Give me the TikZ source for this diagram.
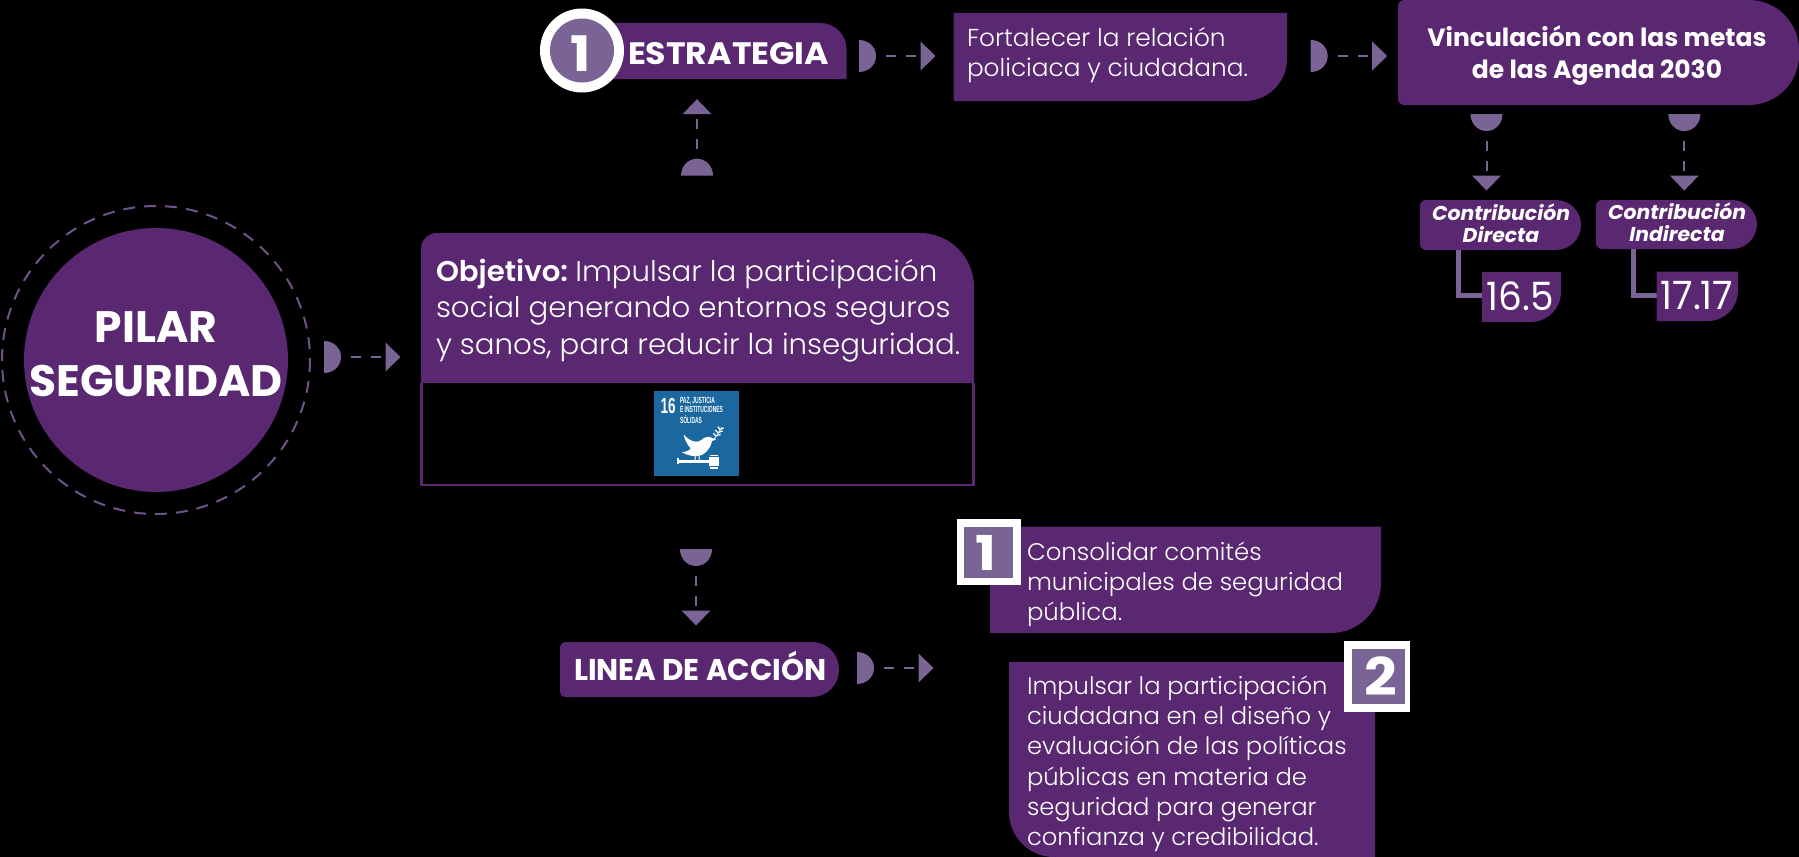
\documentclass[tikz,border=0pt]{standalone}
\usepackage{fontspec}
\usepackage{graphicx}
\setmainfont{Poppins}
\newfontfamily\plight{Poppins Light}
\newfontfamily\narrowf{Liberation Sans}
\definecolor{pilarpurple}{HTML}{5A2771}
\definecolor{connpurple}{HTML}{7A6496}
\definecolor{sdgblue}{HTML}{1A689F}
\tikzset{
  txt/.style={inner sep=0pt,outer sep=0pt,text=white},
  dashline/.style={draw=connpurple,line width=0.1cm,dash pattern=on 0.5cm off 0.5cm,dash phase=0.5cm},
  connfill/.style={fill=connpurple},
  elbow/.style={draw=connpurple,line width=0.25cm}
}
% name x1 y1 x2 y2 rTL rTR rBR rBL
\newcommand\pbox[9]{%
  \fill[pilarpurple] (#2+#6,#3) -- (#4-#7,#3)
    .. controls (#4-#7*0.448,#3) and (#4,#3+#7*0.448) .. (#4,#3+#7)
    -- (#4,#5-#8)
    .. controls (#4,#5-#8*0.448) and (#4-#8*0.448,#5) .. (#4-#8,#5)
    -- (#2+#9,#5)
    .. controls (#2+#9*0.448,#5) and (#2,#5-#9*0.448) .. (#2,#5-#9)
    -- (#2,#3+#6)
    .. controls (#2,#3+#6*0.448) and (#2+#6*0.448,#3) .. (#2+#6,#3) -- cycle;
  \coordinate (#1) at ({(#2+#4)/2},{(#3+#5)/2});
}
% name x y angle
\newcommand\conn[4]{%
  \begin{scope}[shift={(#2,#3)},rotate=#4]
    \fill[connfill] (0,-16) .. controls (9.5,-16) and (17,-9) .. (17,0)
       .. controls (17,9) and (9.5,16) .. (0,16) -- cycle;
    \coordinate (#1-a) at (17,0);
    \coordinate (#1-b) at (61.5,0);
    \fill[connfill] (61.5,-14.5) -- (76.5,0) -- (61.5,14.5) -- cycle;
    \draw[dashline] (#1-a) -- (#1-b);
  \end{scope}
}
% name x y anchor size lead xscale fontcmd lines
\newcommand\tl[9]{%
  \pgfmathsetmacro\fsz{#5*1.42264}\pgfmathsetmacro\lsz{#6*1.42264}%
  \node[txt,anchor=#4] (#1) at (#2,#3) {\fontsize{\fsz pt}{\lsz pt}\selectfont #8\scalebox{#7}[1]{\begin{tabular}[b]{@{}l@{}}#9\end{tabular}}};
}
\newcommand\tc[9]{%
  \pgfmathsetmacro\fsz{#5*1.42264}\pgfmathsetmacro\lsz{#6*1.42264}%
  \node[txt,anchor=#4] (#1) at (#2,#3) {\fontsize{\fsz pt}{\lsz pt}\selectfont #8\scalebox{#7}[1]{\begin{tabular}[b]{@{}c@{}}#9\end{tabular}}};
}
\begin{document}
\begin{tikzpicture}[x=0.05cm,y=-0.05cm]
\useasboundingbox (0,0) rectangle (1799,857);
\fill[black] (0,0) rectangle (1799,857);

% pilar
\draw[connpurple!70!pilarpurple,line width=0.1cm,dash pattern=on 0.6cm off 0.45cm] (156,360) circle[radius=154];
\fill[pilarpurple] (156,360) circle[radius=132];
\coordinate (pilar) at (156,360);
\tc{pilartxt}{156}{396}{base}{44}{54}{1}{\bfseries}{PILAR\\SEGURIDAD}

\conn{c1}{324}{357}{0}

% objetivo
\pbox{obj}{421}{233}{974}{383}{16}{54}{0}{0}
\draw[pilarpurple,line width=0.125cm] (421.5,383) -- (421.5,485) -- (973.5,485) -- (973.5,383);
\tl{objtxt}{436}{354}{base west}{28.5}{36.5}{1.025}{\plight}{{\bfseries Objetivo:}\hspace{-0.12em} Impulsar la participación\\social generando entornos seguros\\y sanos, para reducir la inseguridad.}

% SDG icon
\fill[sdgblue] (654,391) rectangle (738.5,476);
\coordinate (sdg) at (696.5,433.5);
\node[txt,anchor=base west,font=\narrowf\bfseries\fontsize{31pt}{31pt}\selectfont] (sdgnum) at (660.5,413.5) {\scalebox{.62}[1]{16}};
\node[txt,anchor=base west] (sdgtxt) at (680,423.5) {\narrowf\bfseries\fontsize{12.6pt}{13.4pt}\selectfont\scalebox{.56}[1]{\begin{tabular}[b]{@{}l@{}}PAZ, JUSTICIA\\E INSTITUCIONES\\SÓLIDAS\end{tabular}}};
\begin{scope}[shift={(652,389)},x=0.016667cm,y=-0.016667cm]
  \fill[white] (95,137) .. controls (105,148) and (118,158) .. (132,158)
    .. controls (146,158) and (150,150) .. (158,146)
    .. controls (166,141) and (176,143) .. (181,147) -- (192,152) -- (180,156)
    .. controls (178,170) and (168,188) .. (150,198)
    .. controls (132,206) and (108,200) .. (90,190)
    .. controls (100,189) and (112,186) .. (116,178)
    .. controls (106,168) and (98,152) .. (95,137) -- cycle;
  \draw[white,line width=0.05cm] (129,200) -- (130,213) (141,198) -- (142,213);
  \draw[white,line width=0.04cm] (186,151) .. controls (194,140) and (202,128) .. (210,114);
  \foreach \lx/\ly/\mx/\my in {192/141/184/133,198/131/190/123,204/122/198/113,195/140/206/136,201/130/212/126,206/121/215/117}{
    \draw[white,line width=0.06cm] (\lx,\ly) -- (\mx,\my);
  }
  \fill[white] (78,212) rectangle (172,221);
  \fill[white] (76,208) rectangle (82,225);
  \fill[white] (175,197) rectangle (199,202);
  \fill[white] (172,205) rectangle (202,232);
  \fill[white] (175,235) rectangle (199,240);
\end{scope}

% up connector
\conn{c2}{697}{175.7}{90}

% estrategia
\pbox{estr}{600}{23}{846.5}{79}{0}{26}{0}{0}
\fill[white] (582,50.5) circle[radius=42];
\fill[connpurple] (582,50.5) circle[radius=32];
\coordinate (estrc) at (582,50.5);
\tc{estrnum}{580.5}{71}{base}{49}{49}{1.1}{\bfseries}{1}
\tl{estrtxt}{628}{64}{base west}{31}{31}{1.07}{\bfseries}{ESTRATEGIA}

\conn{c3}{859}{56}{0}

% fortalecer
\pbox{fort}{953.5}{13}{1287}{101}{0}{0}{42}{0}
\tl{forttxt}{967}{76.5}{base west}{24.5}{30}{1.012}{\plight}{Fortalecer la relación\\policiaca y ciudadana.}

\conn{c4}{1310.7}{56}{0}

% vinculacion
\pbox{vinc}{1398}{0}{1799}{105}{6}{50}{50}{6}
\tc{vinctxt}{1597}{78}{base}{25}{32}{1}{\bfseries}{Vinculación con las metas\\de las Agenda 2030}

\conn{c5}{1486.5}{114}{-90}
\conn{c6}{1684.3}{114}{-90}

% elbows behind the value boxes
\coordinate (cdirb) at (1458.5,250);
\coordinate (v165l) at (1484,295.7);
\coordinate (cindb) at (1633,249);
\coordinate (v1717l) at (1658,295);
\draw[elbow] (cdirb) |- (v165l);
\draw[elbow] (cindb) |- (v1717l);

% contribucion
\pbox{cdir}{1420}{200}{1581}{250}{6}{25}{25}{6}
\tc{cdirtxt}{1501}{242.7}{base}{20}{20}{1.02}{\bfseries\itshape}{Contribución\\Directa}
\pbox{cind}{1596}{200}{1757}{249}{6}{25}{25}{6}
\tc{cindtxt}{1677}{241.7}{base}{20}{20}{1.02}{\bfseries\itshape}{Contribución\\Indirecta}

% values
\pbox{v165}{1482}{272}{1561}{322}{0}{0}{30}{0}
\tc{v165t}{1520}{310}{base}{39}{39}{.96}{}{16.5}
\pbox{v1717}{1656.7}{271.7}{1738}{321}{0}{0}{30}{0}
\tc{v1717t}{1697}{309}{base}{39}{39}{.96}{}{17.17}

% linea
\conn{c7}{696}{549}{-90}
\pbox{linea}{560}{642}{839}{697}{5}{27}{27}{5}
\tl{lineatxt}{574}{680.7}{base west}{30}{30}{.98}{\bfseries}{LINEA DE ACCIÓN}
\conn{c8}{857}{668}{0}

% box 1
\pbox{b1}{990}{526.7}{1381}{633}{0}{0}{50}{0}
\fill[white] (956.7,519) rectangle (1021,585);
\fill[connpurple] (964,527) rectangle (1012.7,577.7);
\coordinate (sq1) at (988.3,552);
\tc{sq1t}{986}{570}{base}{48}{48}{1.15}{\bfseries}{1}
\tl{b1t}{1027}{620}{base west}{24}{30}{1.015}{\plight}{Consolidar comités\\municipales de seguridad\\pública.}

% box 2
\pbox{b2}{1009}{662}{1375}{857}{0}{0}{0}{45}
\fill[white] (1344,641) rectangle (1410,711.7);
\fill[connpurple] (1351.7,649) rectangle (1405,704);
\coordinate (sq2) at (1378,676);
\tc{sq2t}{1380.5}{695.5}{base}{52}{52}{1.1}{\bfseries}{2}
\tl{b2t}{1027}{845.5}{base west}{24}{30.2}{1.01}{\plight}{Impulsar la participación\\ciudadana en el diseño y\\evaluación de las políticas\\públicas en materia de\\seguridad para generar\\confianza y credibilidad.}
\end{tikzpicture}
\end{document}
